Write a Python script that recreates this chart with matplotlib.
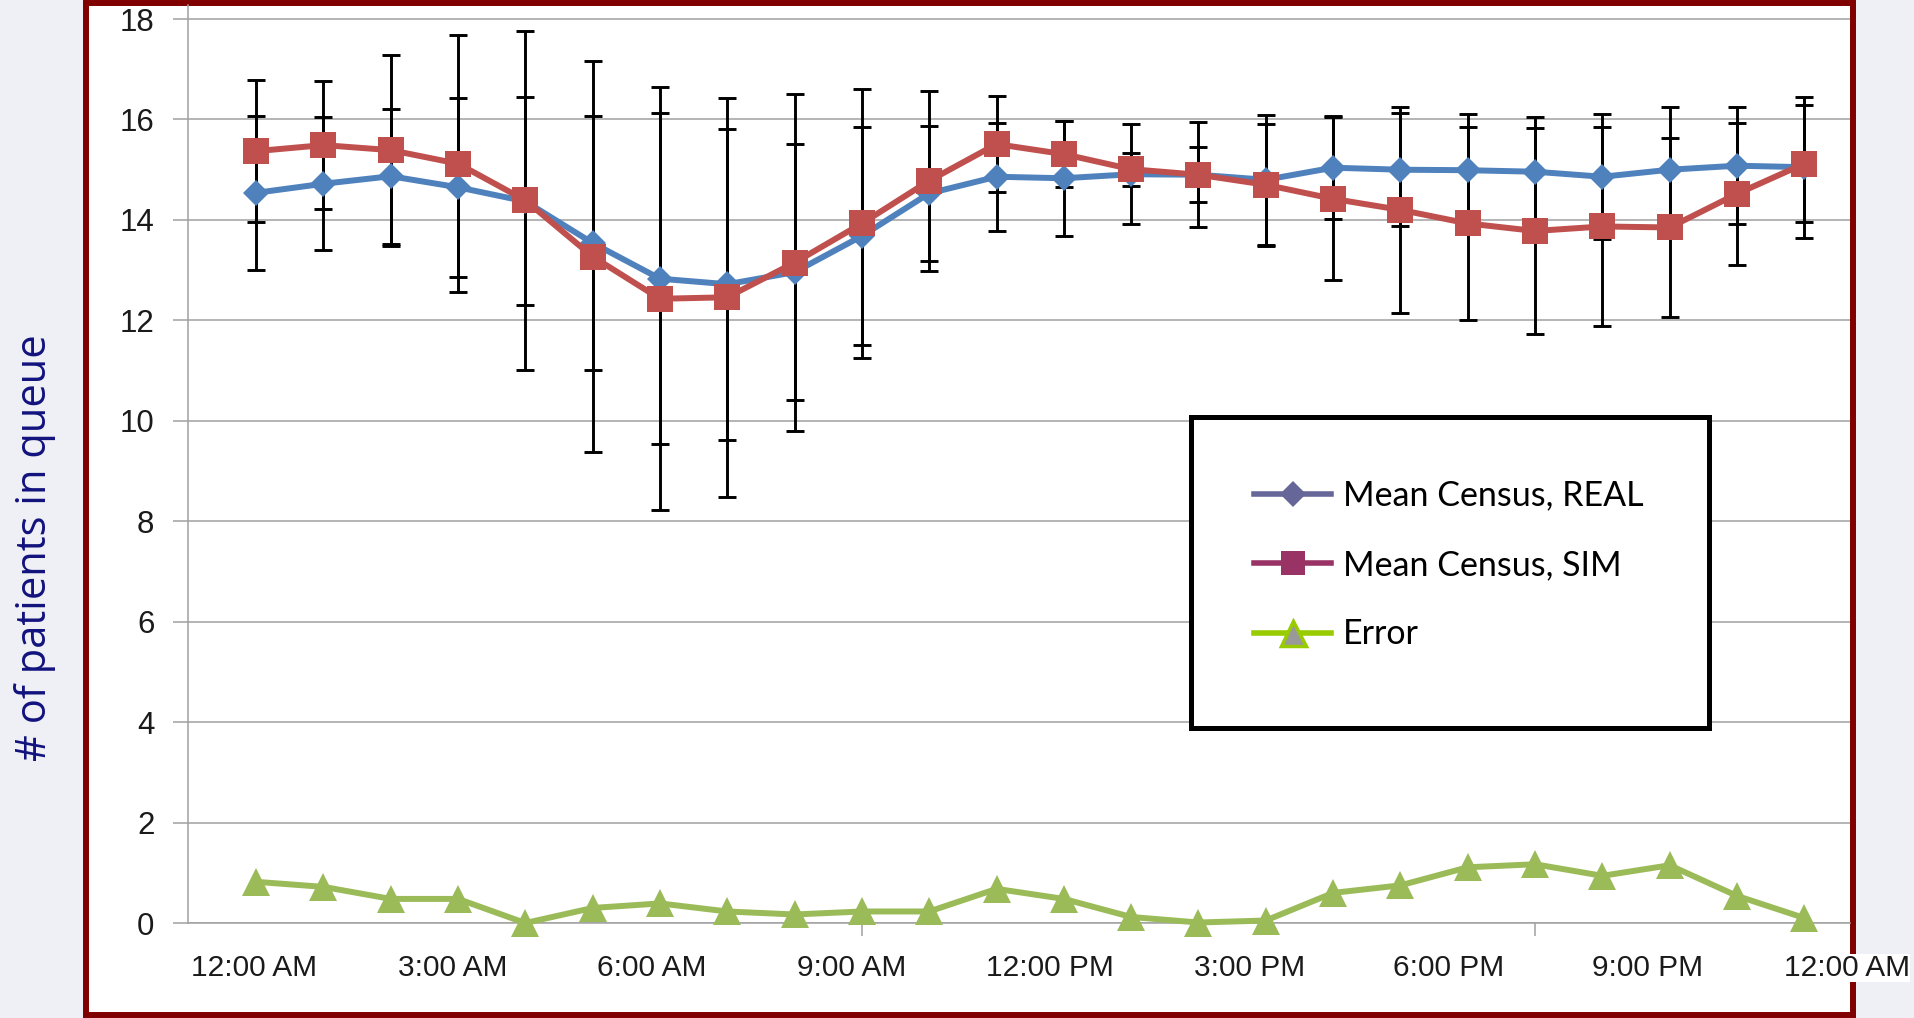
# Mean census in queue - REAL vs SIM by hour of day

import numpy as np
import matplotlib.pyplot as plt
from matplotlib.patches import Rectangle
from matplotlib.lines import Line2D

Hours = np.arange(24)

Tick_Labels = ["12:00 AM", "3:00 AM", "6:00 AM", "9:00 AM", "12:00 PM",
               "3:00 PM", "6:00 PM", "9:00 PM", "12:00 AM"]

Real_Mean = [14.54, 14.72, 14.87, 14.65, 14.37, 13.54, 12.83, 12.72, 12.96, 13.68, 14.53, 14.86,
             14.83, 14.91, 14.90, 14.80, 15.04, 15.00, 14.99, 14.96, 14.86, 15.00, 15.08, 15.05]
Real_Err = [1.53, 1.32, 1.34, 1.78, 2.07, 2.52, 3.29, 3.10, 2.55, 2.17, 1.34, 1.08,
            1.14, 1.00, 1.05, 1.29, 1.02, 1.12, 1.12, 1.08, 1.24, 1.24, 1.16, 1.40]

Sim_Mean = [15.37, 15.49, 15.39, 15.12, 14.39, 13.27, 12.43, 12.46, 13.15, 13.93, 14.78, 15.51,
            15.31, 15.01, 14.90, 14.70, 14.42, 14.20, 13.93, 13.78, 13.87, 13.85, 14.52, 15.12]
Sim_Err = [1.42, 1.28, 1.90, 2.56, 3.37, 3.90, 4.21, 3.97, 3.36, 2.67, 1.79, 0.96,
           0.66, 0.33, 0.55, 1.21, 1.62, 2.05, 1.93, 2.05, 1.99, 1.78, 1.42, 1.17]

Error = [0.82, 0.72, 0.48, 0.48, 0.00, 0.30, 0.39, 0.23, 0.17, 0.23, 0.23, 0.68,
         0.48, 0.12, 0.01, 0.05, 0.60, 0.75, 1.11, 1.17, 0.94, 1.15, 0.54, 0.10]

Legend_Labels = ["Mean Census, REAL", "Mean Census, SIM", "Error"]

Regular = ["Liberation Sans", "DejaVu Sans"]

fig = plt.figure(figsize= (19.14, 10.18), dpi= 100, facecolor= "#EEF0F5")

# dark red frame around the chart
frame = Rectangle((86 / 1914, 1 - 1015 / 1018), (1853 - 86) / 1914, (1015 - 2.5) / 1018,
                  transform= fig.transFigure, facecolor= "white", edgecolor= "#800000",
                  linewidth= 4.3, zorder= -1)
fig.patches.append(frame)

ax = fig.add_axes([0.0981, 0.0933, 0.8685, 0.9018])
ax.set_facecolor("none")

ax.errorbar(Hours, Real_Mean, yerr= Real_Err, fmt= "none", ecolor= "black",
            elinewidth= 2.1, capsize= 6.2, capthick= 2.1, zorder= 2)
ax.errorbar(Hours, Sim_Mean, yerr= Sim_Err, fmt= "none", ecolor= "black",
            elinewidth= 2.1, capsize= 6.2, capthick= 2.1, zorder= 2)

ax.plot(Hours, Real_Mean, color= "#4F81BD", linewidth= 4.3, marker= "D", markersize= 13.7,
        markeredgewidth= 0, solid_joinstyle= "round", zorder= 3)
ax.plot(Hours, Sim_Mean, color= "#C0504D", linewidth= 4.3, marker= "s", markersize= 19,
        markeredgewidth= 0, solid_joinstyle= "round", zorder= 4)
ax.plot(Hours, Error, color= "#9BBB59", linewidth= 4.3, marker= "^", markersize= 19.5,
        markeredgewidth= 0, solid_joinstyle= "round", zorder= 4, clip_on= False)

ax.set_xlim(-1.015, 23.68)
ax.set_ylim(0, 18.28)
ax.set_yticks(np.arange(0, 19, 2))
ax.set_yticklabels([str(v) for v in range(0, 19, 2)], family= Regular, fontsize= 22.5, color= "#1A1A1A")

Tick_Pos = np.arange(0, 25, 3) * 23.66 / 24 - 0.03
ax.set_xticks(Tick_Pos)
ax.set_xticklabels(Tick_Labels, family= Regular, fontsize= 21.5, color= "#1A1A1A")
ax.get_xticklabels()[-1].set_bbox(dict(facecolor= "white", edgecolor= "none", pad= 0))
ax.set_xticks([9, 19], minor= True)

ax.tick_params(axis= "y", length= 11, width= 1.1, color= "#A0A0A0", pad= 13)
ax.tick_params(axis= "x", which= "major", length= 0, pad= 22)
ax.tick_params(axis= "x", which= "minor", length= 9, width= 1.1, color= "#A0A0A0")

ax.grid(axis= "y", color= "#A0A0A0", linewidth= 1.1)
ax.set_axisbelow(True)
for side in ["top", "right"]:
    ax.spines[side].set_visible(False)
for side in ["left", "bottom"]:
    ax.spines[side].set_color("#A0A0A0")
    ax.spines[side].set_linewidth(1.1)

fig.text(0.0185, 0.4617, "# of patients in queue", rotation= 90, ha= "center", va= "center",
         family= ["Open Sans", "DejaVu Sans"], fontsize= 30, color= "#12127E")

# legend box (its colours differ from the plotted series, as in the original)
box = Rectangle((1191 / 1914, 1 - 728 / 1018), (1709 - 1191) / 1914, (728 - 417) / 1018,
                transform= fig.transFigure, facecolor= "white", edgecolor= "black",
                linewidth= 3.6, zorder= 1)
fig.patches.append(box)

Handles = [Line2D([], [], color= "#666699", linewidth= 4, marker= "D", markersize= 13,
                  markeredgewidth= 0),
           Line2D([], [], color= "#993366", linewidth= 4, marker= "s", markersize= 17,
                  markeredgewidth= 0),
           Line2D([], [], color= "#99CC00", linewidth= 4, marker= "^", markersize= 18,
                  markerfacecolor= "#999999", markeredgecolor= "#99CC00", markeredgewidth= 2.5)]

fig.legend(Handles, Legend_Labels, loc= "center", bbox_to_anchor= (0.7570, 0.445),
           bbox_transform= fig.transFigure, frameon= False, borderpad= 0,
           handlelength= 2.25, handletextpad= 0.35, labelspacing= 1.1,
           prop= {"family": ["Lato", "DejaVu Sans"], "size": 24.5})

plt.savefig("out.png", dpi= 100, facecolor= fig.get_facecolor())
